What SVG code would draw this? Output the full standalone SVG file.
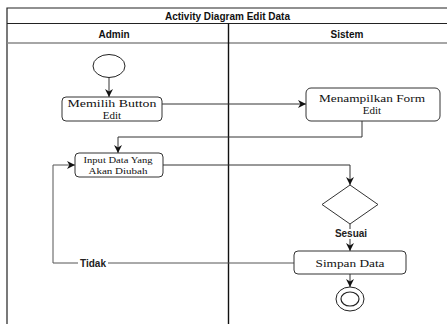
<svg xmlns="http://www.w3.org/2000/svg" width="447" height="324" viewBox="0 0 447 324">
<style>
.frame{fill:none;stroke:#222;stroke-width:1.2}
.hdr{font-family:"Liberation Sans",Arial,sans-serif;font-weight:bold;font-size:10px;fill:#111;text-anchor:middle}
.node rect{fill:#fff;stroke:#333;stroke-width:1}
.lbl{font-family:"Liberation Serif","Times New Roman",serif;font-size:11px;fill:#111;text-anchor:middle}
.small{font-size:9px}
.edge{fill:none;stroke:#333;stroke-width:1}
.gray{stroke:#555}
.elbl{font-family:"Liberation Sans",Arial,sans-serif;font-weight:bold;font-size:10px;fill:#222;text-anchor:middle}
</style>
<defs>
<marker id="arr" viewBox="0 0 10 10" refX="10" refY="5" markerWidth="8" markerHeight="8" markerUnits="userSpaceOnUse" orient="auto">
<path d="M0,0 L10,5 L0,10 L3,5 Z" fill="#111"/>
</marker>
</defs>
<rect width="447" height="324" fill="#fff"/>
<g id="swimlanes">
<path class="frame" d="M7,325 V8 H448"/>
<line class="frame" x1="7" y1="23.5" x2="448" y2="23.5"/>
<line x1="7" y1="43" x2="448" y2="43" stroke="#888" stroke-width="1.6"/>
<line x1="228.5" y1="23.5" x2="228.5" y2="325" stroke="#111" stroke-width="1.4"/>
<text class="hdr" x="227.5" y="19.5" font-size="11">Activity Diagram Edit Data</text>
<text class="hdr" x="114" y="37.5">Admin</text>
<text class="hdr" x="347" y="37.5">Sistem</text>
</g>
<g id="connectors">
<line class="edge" x1="109" y1="77" x2="109" y2="97" marker-end="url(#arr)"/>
<polyline class="edge" points="162,104 306,104" marker-end="url(#arr)"/>
<polyline class="edge" points="362,121 362,137 118,137 118,153" marker-end="url(#arr)"/>
<polyline class="edge" points="163,165 350,165 350,185" marker-end="url(#arr)"/>
<line class="edge" x1="350" y1="224" x2="350" y2="251" marker-end="url(#arr)"/>
<polyline class="edge gray" points="294,263 53,263 53,165 75,165" marker-end="url(#arr)"/>
<line class="edge" x1="350" y1="274" x2="350" y2="287" marker-end="url(#arr)"/>
<rect x="335" y="229" width="32" height="10" fill="#fff"/>
<text class="elbl" x="351" y="237">Sesuai</text>
<rect x="78" y="258" width="30" height="10" fill="#fff"/>
<text class="elbl" x="93" y="266.5">Tidak</text>
</g>
<g id="start"><ellipse cx="109" cy="66" rx="16" ry="11.5" fill="#fff" stroke="#222" stroke-width="1"/></g>
<g id="memilih" class="node"><rect x="62" y="97" width="100" height="24" rx="4"/><text class="lbl" x="112" y="107" textLength="89" lengthAdjust="spacingAndGlyphs">Memilih Button</text><text class="lbl" x="112" y="118.5">Edit</text></g>
<g id="menampilkan" class="node"><rect x="306" y="88" width="134" height="33" rx="5"/><text class="lbl" x="372" y="102" textLength="106" lengthAdjust="spacingAndGlyphs">Menampilkan Form</text><text class="lbl" x="372" y="113.5">Edit</text></g>
<g id="input" class="node"><rect x="75" y="153" width="88" height="24" rx="4"/><text class="lbl small" x="118" y="162.5" textLength="69" lengthAdjust="spacingAndGlyphs">Input Data Yang</text><text class="lbl small" x="118" y="174" textLength="59" lengthAdjust="spacingAndGlyphs">Akan Diubah</text></g>
<g id="decision"><polygon points="350,185 378,204.5 350,224 322,204.5" fill="#fff" stroke="#333" stroke-width="1"/></g>
<g id="simpan" class="node"><rect x="294" y="251" width="112" height="23" rx="4"/><text class="lbl" x="350" y="266.5" textLength="69" lengthAdjust="spacingAndGlyphs">Simpan Data</text></g>
<g id="end"><ellipse cx="350" cy="299" rx="14" ry="12" fill="#fff" stroke="#222" stroke-width="1"/><ellipse cx="350" cy="299" rx="9" ry="7" fill="#fff" stroke="#222" stroke-width="1.2"/></g>
</svg>
